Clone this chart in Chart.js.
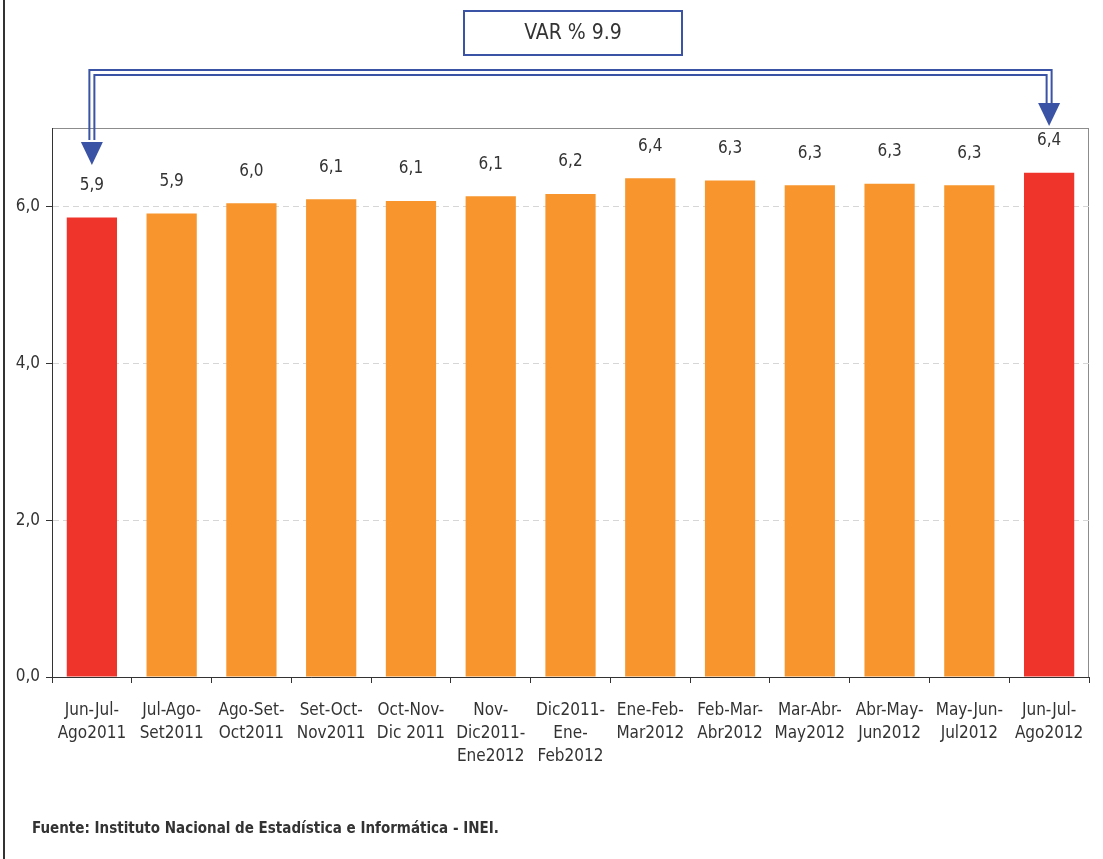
<!DOCTYPE html>
<html>
<head>
<meta charset="utf-8">
<script src="https://cdn.jsdelivr.net/npm/chart.js@4.4.0/dist/chart.umd.min.js"></script>
<style>
  body { margin: 0; background: #fff; }
  #wrap { position: relative; width: 1103px; height: 859px; }
</style>
</head>
<body>
<div id="wrap"><canvas id="mycanvas" width="1103" height="859"></canvas></div>
<script>
var periodos = [
  ['Jun-Jul-', 'Ago2011'], ['Jul-Ago-', 'Set2011'], ['Ago-Set-', 'Oct2011'],
  ['Set-Oct-', 'Nov2011'], ['Oct-Nov-', 'Dic 2011'], ['Nov-', 'Dic2011-', 'Ene2012'],
  ['Dic2011-', 'Ene-', 'Feb2012'], ['Ene-Feb-', 'Mar2012'], ['Feb-Mar-', 'Abr2012'],
  ['Mar-Abr-', 'May2012'], ['Abr-May-', 'Jun2012'], ['May-Jun-', 'Jul2012'],
  ['Jun-Jul-', 'Ago2012']
];
var tasa = [5.86, 5.91, 6.04, 6.09, 6.07, 6.13, 6.16, 6.36, 6.33, 6.27, 6.29, 6.27, 6.43];
var yTicks = [0, 2, 4, 6];
var variacion = 'VAR % 9.9';
var fuente = 'Fuente: Instituto Nacional de Estadística e Informática - INEI.';

var FONT = '"Liberation Sans Narrow", "DejaVu Sans Condensed", "Arial Narrow", sans-serif';
var AZUL = '#3a53a4';

var colores = tasa.map(function(v, i) {
  return (i === 0 || i === tasa.length - 1) ? '#ef342c' : '#f8962d';
});

function coma(v) { return (Math.round(v * 10) / 10).toFixed(1).replace('.', ','); }

var extras = {
  id: 'extras',
  beforeDraw: function(chart) {
    var ctx = chart.ctx, a = chart.chartArea;
    ctx.save();
    ctx.fillStyle = '#fff';
    ctx.fillRect(0, 0, chart.width, chart.height);
    // borde izquierdo de la figura
    ctx.fillStyle = '#333';
    ctx.fillRect(3, 0, 2, chart.height);
    // marco del area
    ctx.strokeStyle = '#8c8c8c';
    ctx.lineWidth = 1;
    ctx.strokeRect(a.left + 0.5, a.top + 0.5, a.right - a.left - 1, a.bottom - a.top);
    ctx.restore();
  },
  afterDatasetsDraw: function(chart) {
    var ctx = chart.ctx;
    var bars = chart.getDatasetMeta(0).data;
    ctx.save();
    ctx.font = '17px ' + FONT;
    ctx.fillStyle = '#333';
    ctx.textAlign = 'center';
    ctx.textBaseline = 'middle';
    bars.forEach(function(b, i) {
      ctx.fillText(coma(tasa[i]), b.x, b.y - 32);
    });

    // flecha doble de la variacion
    var b0 = bars[0], b1 = bars[bars.length - 1];
    var yOut = 70, yIn = 75;
    ctx.strokeStyle = AZUL;
    ctx.lineWidth = 2;
    ctx.beginPath();
    ctx.moveTo(b0.x - 2.5, 140);
    ctx.lineTo(b0.x - 2.5, yOut);
    ctx.lineTo(b1.x + 2.5, yOut);
    ctx.lineTo(b1.x + 2.5, 104);
    ctx.moveTo(b0.x + 2.5, 140);
    ctx.lineTo(b0.x + 2.5, yIn);
    ctx.lineTo(b1.x - 2.5, yIn);
    ctx.lineTo(b1.x - 2.5, 104);
    ctx.stroke();
    ctx.fillStyle = AZUL;
    [[b0.x, 142, 165], [b1.x, 103, 126]].forEach(function(h) {
      ctx.beginPath();
      ctx.moveTo(h[0] - 11, h[1]);
      ctx.lineTo(h[0] + 11, h[1]);
      ctx.lineTo(h[0], h[2]);
      ctx.closePath();
      ctx.fill();
    });

    // caja VAR %
    ctx.fillStyle = '#fff';
    ctx.fillRect(464, 11, 218, 44);
    ctx.strokeRect(464, 11, 218, 44);
    ctx.fillStyle = '#333';
    ctx.font = '21px ' + FONT;
    ctx.fillText(variacion, 573, 34);

    // fuente
    ctx.font = 'bold 15px ' + FONT;
    ctx.textAlign = 'left';
    ctx.fillText(fuente, 32, 829);
    ctx.restore();
  }
};

var ctx = document.getElementById('mycanvas');
var barGraph = new Chart(ctx, {
  type: 'bar',
  data: {
    labels: periodos,
    datasets: [{
      data: tasa,
      backgroundColor: colores,
      borderWidth: 0,
      barPercentage: 0.63,
      categoryPercentage: 1.0
    }]
  },
  options: {
    responsive: false,
    animation: false,
    layout: { padding: { top: 128, right: 14, left: 0, bottom: 0 } },
    plugins: { legend: { display: false }, tooltip: { enabled: false } },
    scales: {
      x: {
        offset: true,
        afterFit: function(s) { s.height = 182; },
        grid: { offset: true, drawOnChartArea: false, drawTicks: true, tickLength: 6, tickColor: '#333' },
        border: { color: '#333', width: 1 },
        ticks: { color: '#333', font: { family: FONT, size: 17, lineHeight: 1.36 }, padding: 16, maxRotation: 0, autoSkip: false }
      },
      y: {
        min: 0,
        max: 7,
        afterFit: function(s) { s.width = 52; },
        afterBuildTicks: function(s) {
          s.ticks = yTicks.map(function(v) { return { value: v }; });
        },
        grid: { color: '#d6d6d6', tickLength: 6, tickColor: '#333', tickBorderDash: [] },
        border: { color: '#333', width: 1, dash: [6, 4] },
        ticks: {
          color: '#333', font: { family: FONT, size: 17 }, padding: 6,
          callback: function(v) { return coma(v); }
        }
      }
    }
  },
  plugins: [extras]
});
</script>
</body>
</html>
